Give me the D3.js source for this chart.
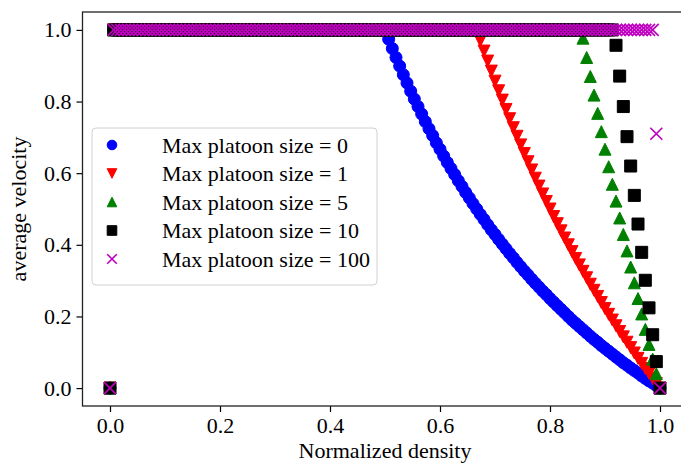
<!DOCTYPE html>
<html>
<head>
<meta charset="utf-8">
<script src="https://cdn.jsdelivr.net/npm/d3@7"></script>
<style>
  html, body { margin: 0; padding: 0; background: #fff; }
  svg { display: block; }
  text { font-family: "Liberation Serif", "Times New Roman", serif; fill: #000; }
</style>
</head>
<body>
<svg id="chart" width="681" height="464"></svg>
<script>
// Normalized density grid: 0 .. 1 in steps of 1/150
const density = [
  0, .0067, .0133, .02, .0267, .0333, .04, .0467, .0533, .06, .0667, .0733, .08, .0867, .0933,
  .1, .1067, .1133, .12, .1267, .1333, .14, .1467, .1533, .16, .1667, .1733, .18, .1867, .1933,
  .2, .2067, .2133, .22, .2267, .2333, .24, .2467, .2533, .26, .2667, .2733, .28, .2867, .2933,
  .3, .3067, .3133, .32, .3267, .3333, .34, .3467, .3533, .36, .3667, .3733, .38, .3867, .3933,
  .4, .4067, .4133, .42, .4267, .4333, .44, .4467, .4533, .46, .4667, .4733, .48, .4867, .4933,
  .5, .5067, .5133, .52, .5267, .5333, .54, .5467, .5533, .56, .5667, .5733, .58, .5867, .5933,
  .6, .6067, .6133, .62, .6267, .6333, .64, .6467, .6533, .66, .6667, .6733, .68, .6867, .6933,
  .7, .7067, .7133, .72, .7267, .7333, .74, .7467, .7533, .76, .7667, .7733, .78, .7867, .7933,
  .8, .8067, .8133, .82, .8267, .8333, .84, .8467, .8533, .86, .8667, .8733, .88, .8867, .8933,
  .9, .9067, .9133, .92, .9267, .9333, .94, .9467, .9533, .96, .9667, .9733, .98, .9867, .9933,
  1
];

// Average velocity per density point, one array per max platoon size
const velocityPlatoon0 = [
  0,
  1,1,1,1,1,1,1,1,1,1, 1,1,1,1,1,1,1,1,1,1, 1,1,1,1,1,1,1,1,1,1, 1,1,1,1,1,1,1,1,1,1,
  1,1,1,1,1,1,1,1,1,1, 1,1,1,1,1,1,1,1,1,1, 1,1,1,1,1,1,1,1,1,1, 1,1,1,1,
  1, .974, .948, .923, .899, .875, .852, .829, .807, .786, .765, .744, .724, .705, .685,
  .667, .648, .630, .613, .596, .579, .563, .546, .531, .515, .5, .485, .471, .456, .442,
  .429, .415, .402, .389, .376, .364, .351, .339, .327, .316, .304, .293, .282, .271, .261,
  .25, .240, .230, .220, .210, .2, .190, .181, .172, .163, .154, .145, .136, .128, .119,
  .111, .103, .095, .087, .079, .071, .064, .056, .049, .042, .034, .027, .020, .014, .007,
  0
];
const velocityPlatoon1 = [
  0,
  1,1,1,1,1,1,1,1,1,1, 1,1,1,1,1,1,1,1,1,1, 1,1,1,1,1,1,1,1,1,1, 1,1,1,1,1,1,1,1,1,1,
  1,1,1,1,1,1,1,1,1,1, 1,1,1,1,1,1,1,1,1,1, 1,1,1,1,1,1,1,1,1,1, 1,1,1,1,1,1,1,1,1,1,
  1,1,1,1,1,1,1,1,1,1, 1,1,1,1,1,1,1,1,1,
  1, .970, .941, .913, .885, .857, .830, .804, .778, .752, .727, .703, .679, .655, .632,
  .609, .586, .564, .542, .521, .5, .479, .459, .439, .419, .4, .381, .362, .344, .326,
  .308, .290, .273, .256, .239, .222, .206, .190, .174, .158, .143, .128, .113, .098, .083,
  .069, .055, .041, .027, .013,
  0
];
const velocityPlatoon5 = [
  0,
  1,1,1,1,1,1,1,1,1,1, 1,1,1,1,1,1,1,1,1,1, 1,1,1,1,1,1,1,1,1,1, 1,1,1,1,1,1,1,1,1,1,
  1,1,1,1,1,1,1,1,1,1, 1,1,1,1,1,1,1,1,1,1, 1,1,1,1,1,1,1,1,1,1, 1,1,1,1,1,1,1,1,1,1,
  1,1,1,1,1,1,1,1,1,1, 1,1,1,1,1,1,1,1,1,1, 1,1,1,1,1,1,1,1,1,1, 1,1,1,1,1,1,1,1,1,1,
  1,1,1,1,1,1,1,1,
  .977, .923, .870, .818, .767, .716, .667, .618, .569, .522, .475, .429, .383, .338, .294,
  .25, .207, .164, .122, .081, .040,
  0
];
const velocityPlatoon10 = [
  0,
  1,1,1,1,1,1,1,1,1,1, 1,1,1,1,1,1,1,1,1,1, 1,1,1,1,1,1,1,1,1,1, 1,1,1,1,1,1,1,1,1,1,
  1,1,1,1,1,1,1,1,1,1, 1,1,1,1,1,1,1,1,1,1, 1,1,1,1,1,1,1,1,1,1, 1,1,1,1,1,1,1,1,1,1,
  1,1,1,1,1,1,1,1,1,1, 1,1,1,1,1,1,1,1,1,1, 1,1,1,1,1,1,1,1,1,1, 1,1,1,1,1,1,1,1,1,1,
  1,1,1,1,1,1,1,1,1,1, 1,1,1,1,1,1,1,
  .957, .871, .786, .702, .620, .538, .458, .379, .301, .224, .149, .074,
  0
];
const velocityPlatoon100 = [
  0,
  1,1,1,1,1,1,1,1,1,1, 1,1,1,1,1,1,1,1,1,1, 1,1,1,1,1,1,1,1,1,1, 1,1,1,1,1,1,1,1,1,1,
  1,1,1,1,1,1,1,1,1,1, 1,1,1,1,1,1,1,1,1,1, 1,1,1,1,1,1,1,1,1,1, 1,1,1,1,1,1,1,1,1,1,
  1,1,1,1,1,1,1,1,1,1, 1,1,1,1,1,1,1,1,1,1, 1,1,1,1,1,1,1,1,1,1, 1,1,1,1,1,1,1,1,1,1,
  1,1,1,1,1,1,1,1,1,1, 1,1,1,1,1,1,1,1,1,1, 1,1,1,1,1,1,1,1,
  .71,
  0
];

const seriesLabels = [
  "Max platoon size = 0",
  "Max platoon size = 1",
  "Max platoon size = 5",
  "Max platoon size = 10",
  "Max platoon size = 100"
];
const seriesColors = ["#0000ff", "#ff0000", "#008000", "#000000", "#bf00bf"];
const seriesMarkers = ["circle", "triangleDown", "triangleUp", "square", "cross"];
const seriesValues = [velocityPlatoon0, velocityPlatoon1, velocityPlatoon5, velocityPlatoon10, velocityPlatoon100];

const xTicks = [0, 0.2, 0.4, 0.6, 0.8, 1.0];
const yTicks = [0, 0.2, 0.4, 0.6, 0.8, 1.0];

const svg = d3.select("#chart");
const plot = { left: 82.5, right: 687.5, top: 12, bottom: 406 };

const x = d3.scaleLinear().domain([-0.05, 1.05]).range([plot.left, plot.right]);
const y = d3.scaleLinear().domain([-0.05, 1.05]).range([plot.bottom, plot.top]);

const fontSize = 22;
const markerSize = 12;

// Marker outlines, centred at the origin, s = full marker width
function markerPath(kind, s) {
  const h = s / 2;
  switch (kind) {
    case "circle": {
      const p = d3.path(); p.arc(0, 0, h, 0, 2 * Math.PI); return p.toString();
    }
    case "triangleUp":   return `M0,${-h}L${h},${h}L${-h},${h}Z`;
    case "triangleDown": return `M0,${h}L${h},${-h}L${-h},${-h}Z`;
    case "square":       return `M${-h},${-h}H${h}V${h}H${-h}Z`;
    case "cross":        return `M${-h},${-h}L${h},${h}M${-h},${h}L${h},${-h}`;
  }
}

function styleMarker(sel, kind, color) {
  if (kind === "cross") {
    sel.attr("fill", "none").attr("stroke", color).attr("stroke-width", 1.6);
  } else {
    sel.attr("fill", color).attr("stroke", color).attr("stroke-width", 1);
  }
}

// Data layers, clipped to the axes box
svg.append("defs").append("clipPath").attr("id", "plotClip")
  .append("rect").attr("x", plot.left).attr("y", plot.top)
  .attr("width", plot.right - plot.left).attr("height", plot.bottom - plot.top);

const layer = svg.append("g").attr("clip-path", "url(#plotClip)");
seriesValues.forEach((vals, k) => {
  const pts = density.map((d, i) => [d, vals[i]]);
  layer.append("g").selectAll("path").data(pts).join("path")
    .attr("transform", d => `translate(${x(d[0])},${y(d[1])})`)
    .attr("d", markerPath(seriesMarkers[k], markerSize))
    .call(styleMarker, seriesMarkers[k], seriesColors[k]);
});

// Axes
const xAxis = d3.axisBottom(x).tickValues(xTicks).tickFormat(d3.format(".1f")).tickSizeInner(6).tickSizeOuter(0).tickPadding(5);
const yAxis = d3.axisLeft(y).tickValues(yTicks).tickFormat(d3.format(".1f")).tickSizeInner(6).tickSizeOuter(0).tickPadding(5);

const gx = svg.append("g").attr("transform", `translate(0,${plot.bottom})`).call(xAxis);
const gy = svg.append("g").attr("transform", `translate(${plot.left},0)`).call(yAxis);
[gx, gy].forEach(g => {
  g.attr("font-family", null).attr("font-size", null);
  g.select(".domain").remove();
  g.selectAll(".tick line").attr("stroke", "#000").attr("stroke-width", 1.2);
  g.selectAll(".tick text").attr("font-size", fontSize).attr("fill", "#000");
});

// Frame
svg.append("rect")
  .attr("x", plot.left).attr("y", plot.top)
  .attr("width", plot.right - plot.left).attr("height", plot.bottom - plot.top)
  .attr("fill", "none").attr("stroke", "#222").attr("stroke-width", 1.3);

// Axis titles
svg.append("text")
  .attr("x", x(0.5)).attr("y", 458)
  .attr("text-anchor", "middle").attr("font-size", fontSize)
  .text("Normalized density");
svg.append("text")
  .attr("transform", `translate(26,${(plot.top + plot.bottom) / 2}) rotate(-90)`)
  .attr("text-anchor", "middle").attr("font-size", fontSize)
  .text("average velocity");

// Legend
const legend = { x: 92, y: 128, w: 285, h: 157, rowH: 28.5, firstRow: 145, markerX: 112, textX: 162 };
const lg = svg.append("g");
lg.append("rect")
  .attr("x", legend.x).attr("y", legend.y).attr("width", legend.w).attr("height", legend.h)
  .attr("rx", 4).attr("fill", "#fff").attr("fill-opacity", 0.8)
  .attr("stroke", "#d0d0d0").attr("stroke-width", 1);
seriesLabels.forEach((lab, k) => {
  const cy = legend.firstRow + k * legend.rowH;
  lg.append("path")
    .attr("transform", `translate(${legend.markerX},${cy})`)
    .attr("d", markerPath(seriesMarkers[k], markerSize * 0.8))
    .call(styleMarker, seriesMarkers[k], seriesColors[k]);
  lg.append("text")
    .attr("x", legend.textX).attr("y", cy).attr("dy", "0.35em")
    .attr("font-size", fontSize).text(lab);
});
</script>
</body>
</html>
